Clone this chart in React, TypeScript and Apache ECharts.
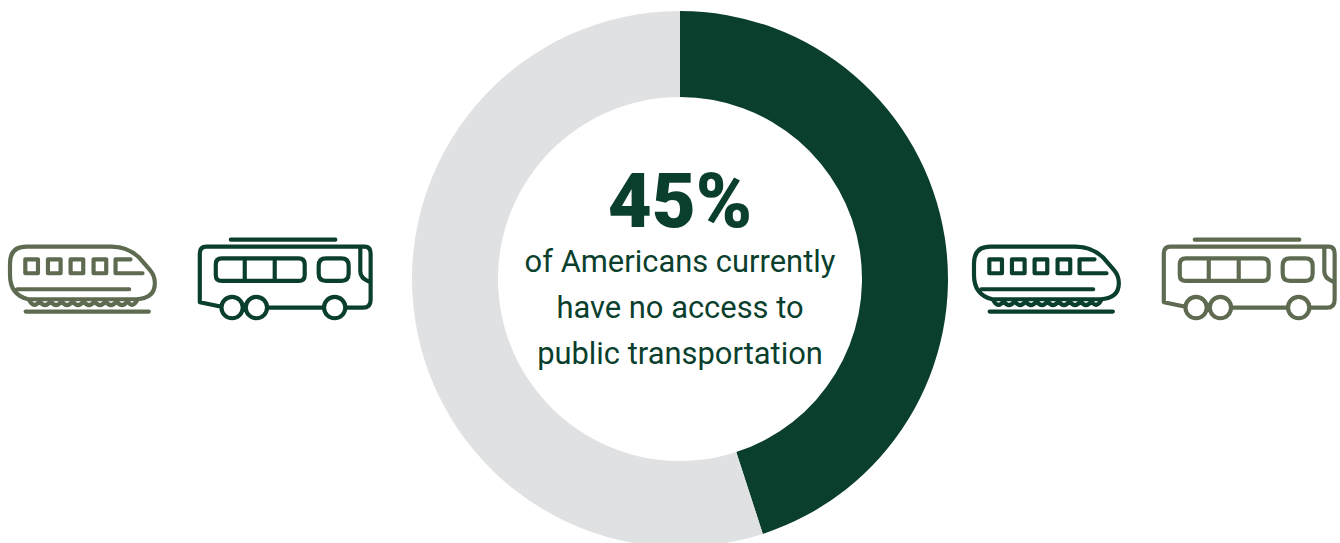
import React, { useEffect, useRef } from "react";
import * as echarts from "echarts";

const sliceNames = ["No access to public transportation", "Has access"];
const sliceValues = [45, 55];
const headline = "45%";
const captionLines = ["of Americans currently", "have no access to", "public transportation"];
const DARK = "#0b3f2d";
const GRAY = "#e0e1e3";
const OLIVE = "#5e6b50";

const TRAIN =
  "M80 65L335 65Q385 65 420 100L450 135Q465 152 465 175Q465 220 410 223L85 223Q30 210 30 150L30 115Q30 65 80 65Z" +
  "M76 103H114V145H76ZM144 103H182V145H144ZM212 103H250V145H212ZM281 103H319V145H281Z" +
  "M428 145L347 145L347 103L392 103" +
  "M52 193L388 193M77 260L447 260" +
  "M88 226Q102 252 119 229Q135 252 152 229Q168 252 185 229Q201 252 218 229Q234 252 251 229Q267 252 284 229Q300 252 317 229Q333 252 350 229Q366 252 383 229Q397 252 412 226";
const BUS =
  "M662 245L600 232L600 85Q600 65 620 65L1095 65Q1113 65 1113 85L1113 225Q1113 248 1090 248L1040 248" +
  "M805 248L970 248M693 44L1007 44" +
  "M666 100L897 100Q915 100 915 118L915 150Q915 168 897 168L666 168Q648 168 648 150L648 118Q648 100 666 100Z" +
  "M735 100L735 168M825 100L825 168" +
  "M979 100L1025 100Q1047 100 1047 122L1047 146Q1047 168 1025 168L979 168Q957 168 957 146L957 122Q957 100 979 100Z" +
  "M1082 68L1082 140Q1082 160 1108 170" +
  "M729 248A32 32 0 1 1 665 248A32 32 0 1 1 729 248Z" +
  "M802 248A32 32 0 1 1 738 248A32 32 0 1 1 802 248Z" +
  "M1037 248A32 32 0 1 1 973 248A32 32 0 1 1 1037 248Z";

echarts.graphic.registerShape("trainIcon", echarts.graphic.extendPath(TRAIN, {}));
echarts.graphic.registerShape("busIcon", echarts.graphic.extendPath(BUS, {}));

const icon = (type: string, dx: number, color: string) => ({
  type,
  x: dx,
  y: 225,
  scaleX: 1 / 3,
  scaleY: 1 / 3,
  silent: true,
  style: { fill: "none", stroke: color, lineWidth: 12.5, lineCap: "round", lineJoin: "round" },
});

export default function App() {
  const ref = useRef<HTMLDivElement>(null);
  useEffect(() => {
    const chart = echarts.init(ref.current!, undefined, { renderer: "svg" });
    chart.setOption({
      animation: false,
      backgroundColor: "#ffffff",
      series: [
        {
          type: "pie",
          silent: true,
          center: [680, 279],
          radius: [182, 268],
          startAngle: 90,
          clockwise: true,
          label: { show: false },
          labelLine: { show: false },
          data: sliceNames.map((name, i) => ({
            name,
            value: sliceValues[i],
            itemStyle: { color: i === 0 ? DARK : GRAY },
          })),
        },
      ],
      graphic: [
        icon("trainIcon", 0, OLIVE),
        icon("busIcon", 0, DARK),
        icon("trainIcon", 964, DARK),
        icon("busIcon", 964, OLIVE),
        {
          type: "text",
          x: 680,
          y: 201,
          style: {
            text: headline,
            fill: DARK,
            font: "900 76px Roboto",
            align: "center",
            verticalAlign: "middle",
          },
        },
        ...captionLines.map((line, i) => ({
          type: "text",
          x: 680,
          y: 261 + i * 46,
          style: {
            text: line,
            fill: DARK,
            font: "400 30.9px Roboto",
            align: "center",
            verticalAlign: "middle",
          },
        })),
      ],
    });
    return () => chart.dispose();
  }, []);
  return (
    <div
      ref={ref}
      style={{ position: "fixed", left: 0, top: 0, width: 1340, height: 543 }}
    />
  );
}
